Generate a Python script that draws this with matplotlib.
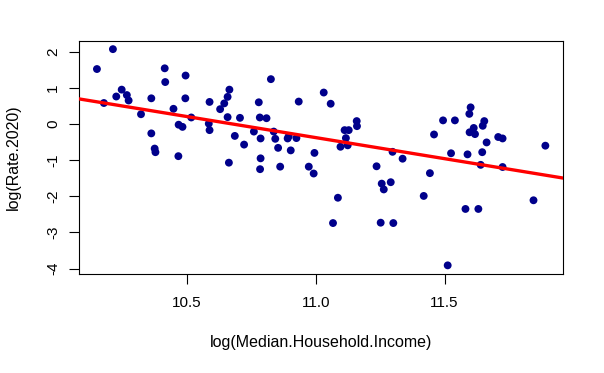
import numpy as np
import matplotlib
matplotlib.use('Agg')
import matplotlib.pyplot as plt

plt.rcParams['font.family'] = ['Liberation Sans', 'DejaVu Sans']

# log(Median.Household.Income) and log(Rate.2020)
log_income = [
    10.213, 10.151, 10.414, 10.416, 10.495, 10.247, 10.226, 10.267, 10.274, 10.178,
    10.362, 10.494, 10.322, 10.448, 10.517, 10.468, 10.483, 10.362, 10.375, 10.378,
    10.467, 10.588, 10.629, 10.645, 10.658, 10.665, 10.585, 10.588, 10.658, 10.706,
    10.686, 10.722, 10.663,
    10.826, 10.779, 10.934, 11.031, 11.058, 10.783, 10.809, 10.760, 10.837, 10.786,
    10.843, 10.891, 10.895, 10.925, 10.854, 10.903, 10.995, 10.786, 10.784, 10.862,
    10.973, 10.992, 11.159, 11.160, 11.112, 11.128, 11.117, 11.096, 11.124, 11.298,
    11.337, 11.236, 11.256, 11.264, 11.291, 11.086, 11.067, 11.252, 11.301,
    11.601, 11.596, 11.494, 11.540, 11.654, 11.648, 11.613, 11.597, 11.618, 11.459,
    11.708, 11.725, 11.663, 11.891, 11.525, 11.589, 11.646, 11.640, 11.725, 11.443,
    11.419, 11.845, 11.581, 11.631, 11.512,
]
log_rate = [
    2.07, 1.52, 1.54, 1.16, 1.34, 0.95, 0.76, 0.80, 0.65, 0.58,
    0.71, 0.71, 0.27, 0.42, 0.18, -0.02, -0.08, -0.26, -0.68, -0.78,
    -0.89, 0.61, 0.41, 0.57, 0.75, 0.95, 0.01, -0.17, 0.19, 0.17,
    -0.33, -0.57, -1.07,
    1.24, 0.60, 0.62, 0.87, 0.56, 0.18, 0.16, -0.21, -0.21, -0.40,
    -0.41, -0.40, -0.34, -0.39, -0.66, -0.73, -0.80, -0.95, -1.25, -1.18,
    -1.18, -1.37, 0.08, -0.06, -0.17, -0.17, -0.39, -0.63, -0.59, -0.77,
    -0.96, -1.17, -1.65, -1.81, -1.61, -2.04, -2.74, -2.73, -2.74,
    0.46, 0.28, 0.10, 0.10, 0.08, -0.05, -0.11, -0.23, -0.28, -0.29,
    -0.36, -0.40, -0.51, -0.60, -0.81, -0.84, -0.78, -1.13, -1.19, -1.36,
    -1.99, -2.11, -2.35, -2.35, -3.91,
]

x = np.array(log_income)
y = np.array(log_rate)

fig = plt.figure(figsize=(6.04, 3.73), dpi=100)
ax = fig.add_axes([79 / 604, 1 - 274 / 373, (563.3 - 79) / 604, (274 - 40.5) / 373])

ax.scatter(x, y, s=32, color='#00008B', edgecolors='none', zorder=2)

# recta de regressao (como abline(lm(...)) no R)
coef = np.polyfit(x, y, 1)
ax.axline((0, coef[1]), slope=coef[0], color='red', lw=2.4, zorder=3)

# limites como o R (4% de folga)
dx = (x.max() - x.min()) * 0.04
dy = (y.max() - y.min()) * 0.04
ax.set_xlim(x.min() - dx, x.max() + dx)
ax.set_ylim(y.min() - dy, y.max() + dy)

ax.set_xticks([10.5, 11.0, 11.5])
ax.set_xticklabels(['10.5', '11.0', '11.5'])
ax.set_yticks([-4, -3, -2, -1, 0, 1, 2])
ax.set_yticklabels(['-4', '-3', '-2', '-1', '0', '1', '2'], rotation=90, va='center')

ax.tick_params(axis='both', length=7, width=0.8, labelsize=11, direction='out')
ax.tick_params(axis='x', pad=9)
ax.tick_params(axis='y', pad=6.5)

for s in ax.spines.values():
    s.set_linewidth(0.8)
    s.set_color('black')

ax.set_xlabel('log(Median.Household.Income)', fontsize=11.5, labelpad=18)
ax.set_ylabel('log(Rate.2020)', fontsize=11.5, labelpad=18)

fig.savefig('out.png', dpi=100)
